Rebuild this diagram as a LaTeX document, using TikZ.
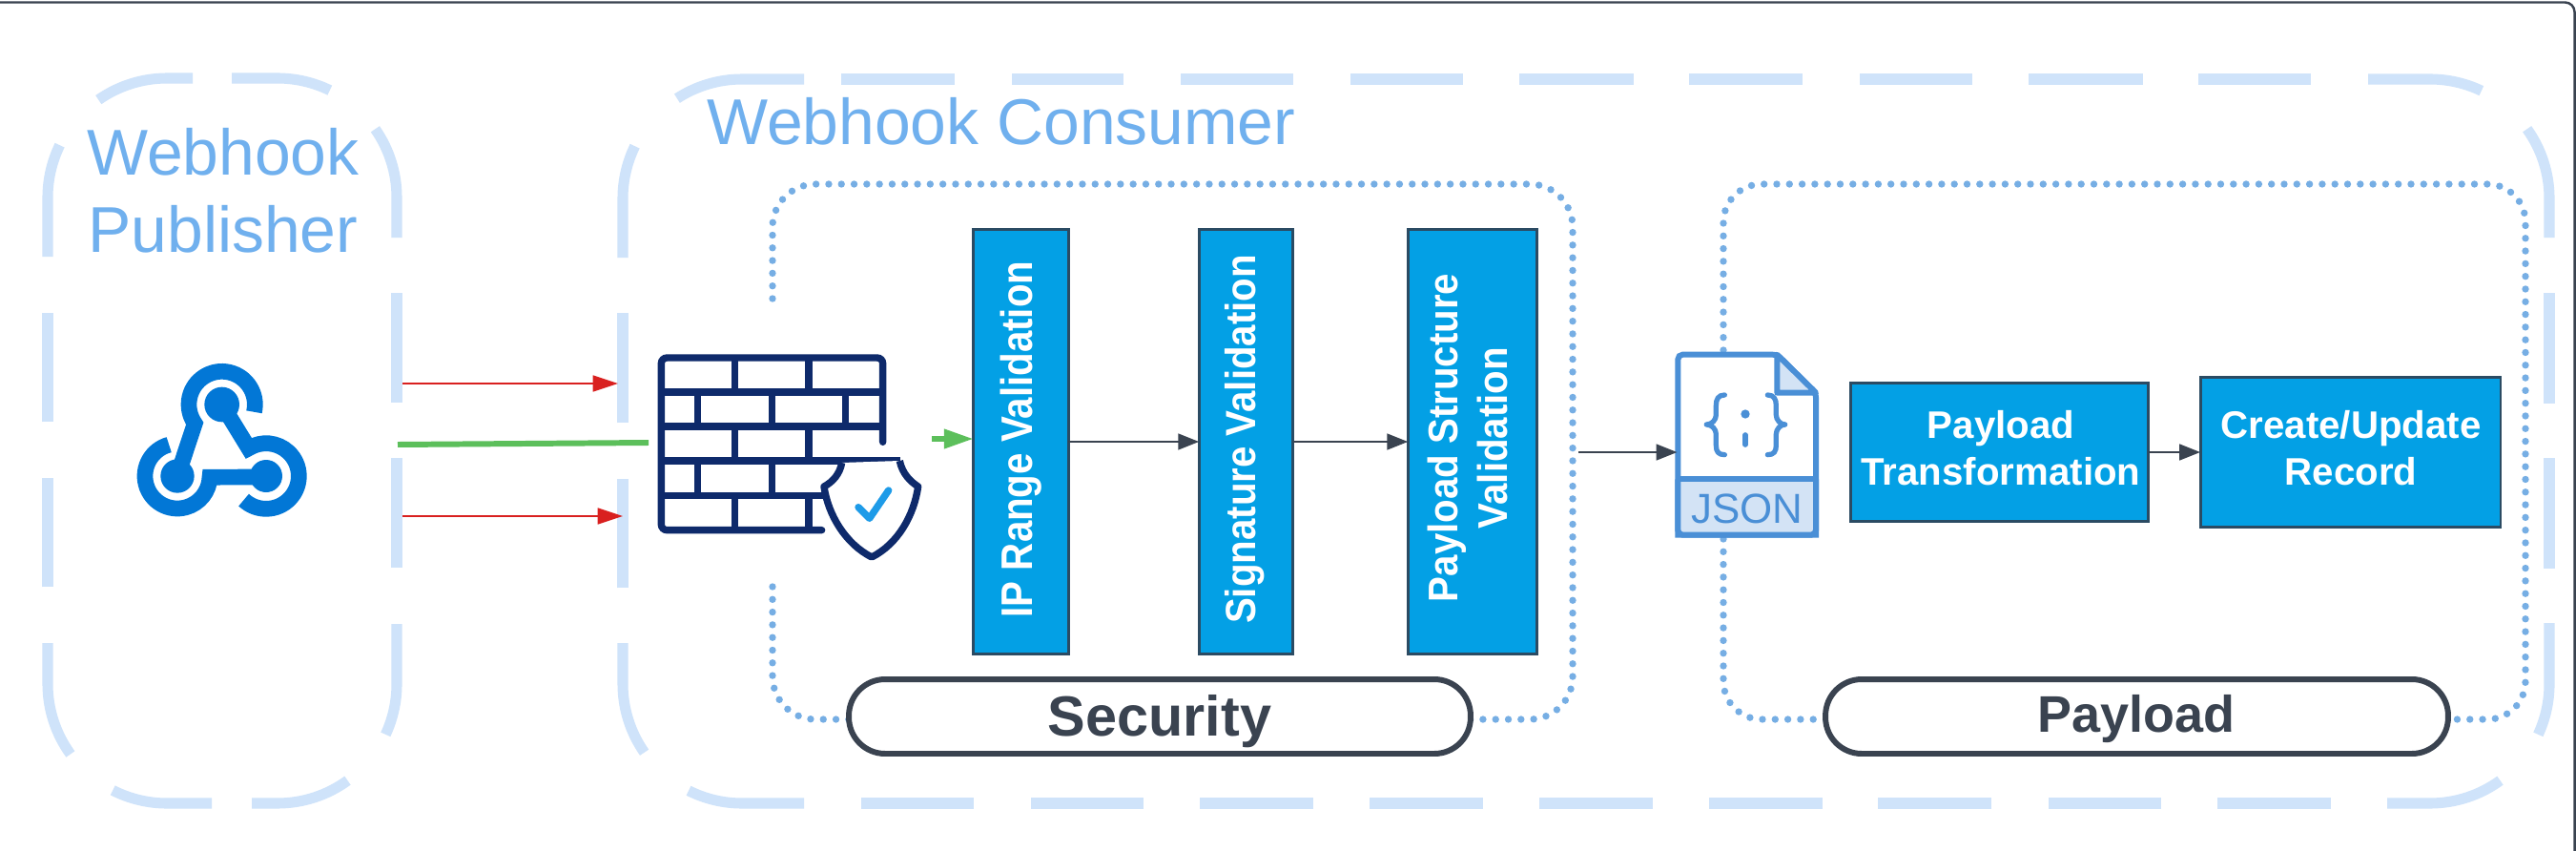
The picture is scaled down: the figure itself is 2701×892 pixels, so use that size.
\documentclass[tikz,border=0pt]{standalone}
\usepackage{fontspec}
\setmainfont{Liberation Sans}
\usetikzlibrary{arrows.meta,calc}
\definecolor{dashc}{HTML}{CFE3FA}
\definecolor{titlec}{HTML}{70B0EE}
\definecolor{dotc}{HTML}{76AEE4}
\definecolor{boxfill}{HTML}{03A0E5}
\definecolor{boxedge}{HTML}{2B4B63}
\definecolor{darkc}{HTML}{3A4350}
\definecolor{redc}{HTML}{D9201F}
\definecolor{greenc}{HTML}{5CBF5B}
\definecolor{navyc}{HTML}{0E2A6B}
\definecolor{checkc}{HTML}{1E9BE8}
\definecolor{hookc}{HTML}{0277D6}
\definecolor{jsonc}{HTML}{4A8FD6}
\definecolor{jsonfill}{HTML}{D3E3F5}
\tikzset{
  dashpiece/.style={draw=dashc,line width=6.3pt},
  dotline/.style={draw=dotc,line width=4.2pt,line cap=round,dash pattern=on 0pt off 7.57pt},
  procbox/.style={draw=boxedge,fill=boxfill,line width=1.7pt,inner sep=0pt,outer sep=0pt},
  pill/.style={draw=darkc,fill=white,line width=3.4pt,rounded corners=0.76cm,inner sep=0pt,outer sep=0pt,minimum height=1.56cm},
  boxtext/.style={text=white,font=\bfseries\fontsize{22.9}{27.9}\selectfont,inner sep=0pt,outer sep=0pt,align=center},
  vtext/.style={boxtext,rotate=90,anchor=base},
  titletext/.style={text=titlec,font=\fontsize{38.6}{46}\selectfont,inner sep=0pt,anchor=base west},
  flow/.style={draw=darkc,line width=1.5pt,-{Triangle[length=12.5pt,width=9.5pt,fill=darkc]},shorten >=0pt},
  redarrow/.style={draw=redc,line width=1.5pt,-{Triangle[length=15pt,width=9.5pt,fill=redc]}},
  ghost/.style={inner sep=0pt,outer sep=0pt}
}
\begin{document}
\begin{tikzpicture}[x=0.02cm,y=-0.02cm]
\useasboundingbox (0,0) rectangle (2701,892);
\fill[white] (0,0) rectangle (2701,892);
% outer frame
\draw[draw=darkc,line width=1.4pt,rounded corners=0.2cm] (-6,2.5) -- (2699.5,2.5) -- (2699.5,900);
% publisher dashed box
\draw[dashpiece] ([shift={(-125:125)}]175,207) arc[start angle=-125,end angle=-90,radius=125] -- (202,82);
\draw[dashpiece] (243,82) -- (291,82) arc[start angle=-90,end angle=-64,radius=125];
\draw[dashpiece] ([shift={(-35:125)}]291,207) arc[start angle=-35,end angle=0,radius=125] -- (416,249);
\foreach \a/\b in {307/422,480/595} \draw[dashpiece] (416,\a) -- (416,\b);
\draw[dashpiece] (416,654) -- (416,717) arc[start angle=0,end angle=25,radius=125];
\draw[dashpiece] ([shift={(54:125)}]291,717) arc[start angle=54,end angle=90,radius=125] -- (264,842);
\draw[dashpiece] (222,842) -- (175,842) arc[start angle=90,end angle=117,radius=125];
\draw[dashpiece] ([shift={(144:125)}]175,717) arc[start angle=144,end angle=180,radius=125] -- (50,674);
\foreach \a/\b in {615/501,442/328} \draw[dashpiece] (50,\a) -- (50,\b);
\draw[dashpiece] (50,269) -- (50,207) arc[start angle=180,end angle=206,radius=125];
% consumer dashed box
\draw[dashpiece] ([shift={(-123:125)}]778,208) arc[start angle=-123,end angle=-90,radius=125] -- (843,83);
\foreach \a/\b in {882/1001,1061/1178,1238/1356,1416/1534,1593/1713,1771/1890,1950/2068,2127/2247,2305/2423} \draw[dashpiece] (\a,83) -- (\b,83);
\draw[dashpiece] (2483,83) -- (2548,83) arc[start angle=-90,end angle=-64.5,radius=125];
\draw[dashpiece] ([shift={(-35.6:125)}]2548,208) arc[start angle=-35.6,end angle=0,radius=125] -- (2673,249);
\foreach \a/\b in {307/423,480/596} \draw[dashpiece] (2673,\a) -- (2673,\b);
\draw[dashpiece] (2673,653) -- (2673,717) arc[start angle=0,end angle=25,radius=125];
\draw[dashpiece] ([shift={(54:125)}]2548,717) arc[start angle=54,end angle=90,radius=125] -- (2503,842);
\foreach \a/\b in {2325/2444,2148/2266,1969/2088,1792/1911,1614/1733,1436/1555,1258/1377,1081/1199,903/1021} \draw[dashpiece] (\a,842) -- (\b,842);
\draw[dashpiece] (843,842) -- (778,842) arc[start angle=90,end angle=116.6,radius=125];
\draw[dashpiece] ([shift={(145:125)}]778,717) arc[start angle=145,end angle=180,radius=125] -- (653,674);
\foreach \a/\b in {616/502,443/328} \draw[dashpiece] (653,\a) -- (653,\b);
\draw[dashpiece] (653,270) -- (653,208) arc[start angle=180,end angle=206,radius=125];
% titles
\node[titletext] (pubt1) at (91,183) {Webhook};
\node[titletext] (pubt2) at (92,264) {Publisher};
\node[titletext] (cont) at (741,152) {Webhook Consumer};
% dotted groups
\draw[dotline,rounded corners=0.9cm] (810,313) -- (810,193) -- (1649,193) -- (1649,754) -- (1530,754);
\draw[dotline,rounded corners=0.9cm] (810,615) -- (810,754) -- (900,754);
\draw[dotline,rounded corners=0.8cm] (1807,367) -- (1807,193) -- (2648,193) -- (2648,754) -- (2550,754);
\draw[dotline,rounded corners=0.8cm] (1807,565) -- (1807,754) -- (1930,754);
% group pills
\node[pill,minimum width=13.04cm] (secp) at (1216,751) {};
\node[pill,minimum width=13.06cm] (payp) at (2240.5,751) {};
\node[ghost,anchor=base,text=darkc,font=\bfseries\fontsize{33.8}{40}\selectfont] (sect) at (1216,771) {Security};
\node[ghost,anchor=base,text=darkc,font=\bfseries\fontsize{30.7}{36}\selectfont] (payt) at (2240,767) {Payload};
% process boxes
\node[procbox,minimum width=1.99cm,minimum height=8.9cm] (ip) at (1070.5,463) {};
\node[procbox,minimum width=1.97cm,minimum height=8.9cm] (sig) at (1306.5,463) {};
\node[procbox,minimum width=2.71cm,minimum height=8.9cm] (st) at (1544,463) {};
\node[procbox,minimum width=6.25cm,minimum height=2.9cm] (tr) at (2096.5,474) {};
\node[procbox,minimum width=6.3cm,minimum height=3.14cm] (cu) at (2464.5,474) {};
\node[vtext] (ipt) at (1082,460.5) {\scalebox{1}[1.15]{IP Range Validation}};
\node[vtext] (sigt) at (1316,460.5) {\scalebox{1}[1.1]{Signature Validation}};
\node[boxtext,rotate=90,font=\bfseries\fontsize{22.9}{29.6}\selectfont] (stt) at (1539,459) {\scalebox{1}[1.08]{Payload Structure}\\\scalebox{1}[1.08]{Validation}};
\node[boxtext] (trt) at (2098,469.5) {Payload\\Transformation};
\node[boxtext] (cut) at (2465,470) {Create/Update\\Record};
% webhook icon
\node[ghost,minimum width=5.4cm,minimum height=4.8cm] (hook) at (232,461) {};
\begin{scope}[shift={(100,350)},scale=1/3]
 \draw[hookc,line width=9.5pt] ([shift={(13:104)}]398,222) arc[start angle=13,end angle=-215,radius=104] -- (258,447);
 \draw[hookc,line width=9.5pt] ([shift={(-105:102)}]258,447) arc[start angle=-105,end angle=-358,radius=102] -- (537,450);
 \draw[hookc,line width=9.5pt] ([shift={(133:103)}]537,447) arc[start angle=133,end angle=-122,radius=103] -- (398,222);
 \fill[hookc] (398,222) circle[radius=55] (258,447) circle[radius=53] (537,447) circle[radius=51];
\end{scope}
% firewall icon
\node[ghost,minimum width=5.74cm,minimum height=4.36cm] (fw) at (823.5,479) {};
\begin{scope}[shift={(640,320)},scale=1/3]
 \draw[navyc,line width=4.2pt,line cap=round,rounded corners=0.12cm] (665,707) -- (160,707) -- (160,165) -- (857,165) -- (857,430);
 \draw[navyc,line width=4.2pt] (160,273) -- (857,273) (160,381) -- (857,381) (160,489) -- (912,489) (160,598) -- (680,598);
 \draw[navyc,line width=4.2pt] (392,165) -- (392,273) (624,165) -- (624,273)
   (275,273) -- (275,381) (508,273) -- (508,381) (740,273) -- (740,381)
   (392,381) -- (392,489) (624,381) -- (624,489)
   (275,489) -- (275,598) (508,489) -- (508,598)
   (392,598) -- (392,707) (624,598) -- (624,707);
 \draw[navyc,fill=white,line width=4.2pt,line join=round] (728,495) .. controls (722,530) and (700,555) .. (672,570) .. controls (685,660) and (740,750) .. (822,792) .. controls (905,750) and (955,660) .. (968,570) .. controls (945,555) and (918,530) .. (910,489);
 \draw[checkc,line width=4.2pt,line cap=round,line join=round] (780,635) -- (815,670) -- (875,582);
\end{scope}
% json icon
\node[ghost,minimum width=2.9cm,minimum height=4.08cm] (json) at (1831,474) {};
\begin{scope}[shift={(1700,340)},scale=1/3]
 \draw[jsonc,fill=white,line width=3.4pt,rounded corners=0.1cm] (178,662) -- (178,95) -- (490,95) -- (612,215) [sharp corners] -- (612,662) -- cycle;
 \fill[jsonfill] (178,487) rectangle (612,658);
 \draw[jsonc,fill=jsonfill,line width=3.4pt,line join=round] (490,95) -- (612,215) -- (490,215) -- cycle;
 \draw[jsonc,line width=3.4pt,rounded corners=0.1cm] (178,487) -- (178,662) -- (612,662) -- (612,487);
 \draw[jsonc,line width=3.4pt] (178,487) -- (612,487);
 \draw[jsonc,line width=3pt,line cap=round,line join=round] (325,222) .. controls (305,222) and (298,235) .. (298,255) -- (298,285) .. controls (298,300) and (285,315) .. (268,315) .. controls (285,315) and (298,330) .. (298,345) -- (298,380) .. controls (298,400) and (305,410) .. (325,410);
 \draw[jsonc,line width=3pt,line cap=round,line join=round] (460,222) .. controls (480,222) and (487,235) .. (487,255) -- (487,285) .. controls (487,300) and (500,315) .. (515,315) .. controls (500,315) and (487,330) .. (487,345) -- (487,380) .. controls (487,400) and (480,410) .. (460,410);
 \fill[jsonc] (390,282) circle[radius=14];
 \draw[jsonc,line width=3.2pt,line cap=round] (390,348) -- (390,378);
\end{scope}
\node[ghost,anchor=base,text=jsonc,font=\fontsize{25}{30}\selectfont] (jsont) at (1832,548) {JSON};
% connectors
\coordinate (r1s) at (422,402); \coordinate (r1e) at (648,402);
\coordinate (r2s) at (422,541); \coordinate (r2e) at (653,541);
\coordinate (gs) at (417,466); \coordinate (ge) at (fw.west |- 0,464);
\draw[redarrow] (r1s) -- (r1e);
\draw[redarrow] (r2s) -- (r2e);
\draw[greenc,line width=3.4pt] (gs) -- (ge);
\coordinate (g2) at (977,460);
\draw[greenc,line width=3.4pt,-{Triangle[length=17.6pt,width=11pt,fill=greenc]}] (g2) -- (ip.west |- g2);
\draw[flow] (ip) -- (sig);
\draw[flow] (sig) -- (st);
\coordinate (a3) at (1655,474);
\draw[flow] (a3) -- (json.west);
\draw[flow] (tr) -- (cu);
\end{tikzpicture}
\end{document}
